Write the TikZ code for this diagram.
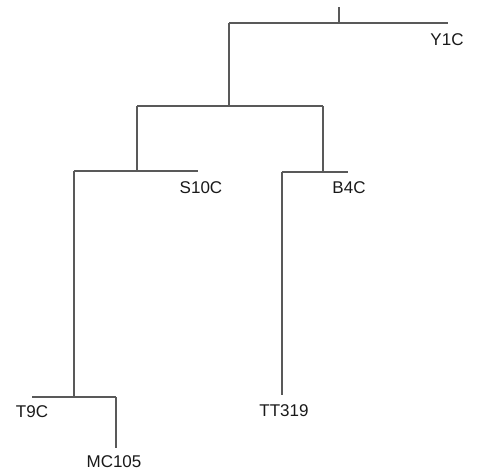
\documentclass[tikz,border=0pt]{standalone}
\usepackage{fontspec}
\setmainfont{Liberation Sans}
\begin{document}
\begin{tikzpicture}[x=1pt,y=-1pt,
  br/.style={draw=black!65,line width=1.1pt},
  lab/.style={font=\fontsize{17}{19}\selectfont, text=black!90, inner sep=0pt}]
\useasboundingbox (0,0) rectangle (478,471);
% coordinates of the tree
\coordinate (top) at (339,7);
\coordinate (r) at (339,23);
\coordinate (rL) at (229,23);
\coordinate (rR) at (448,23);
\coordinate (a) at (229,106);
\coordinate (aL) at (137,106);
\coordinate (aR) at (323,106);
\coordinate (s) at (137,171);
\coordinate (sL) at (74,171);
\coordinate (sR) at (198,171);
\coordinate (b) at (323,172);
\coordinate (bL) at (282,172);
\coordinate (bR) at (348,172);
\coordinate (t) at (74,397);
\coordinate (tL) at (32,397);
\coordinate (tR) at (116,397);
\coordinate (mc) at (116,448);
\coordinate (tt) at (282,395);
% labels
\node[lab] (Y1C) at (447,40) {Y1C};
\node[lab] (S10C) at (201,188) {S10C};
\node[lab] (B4C) at (349,188) {B4C};
\node[lab] (T9C) at (32,412) {T9C};
\node[lab] (TT319) at (284,411) {TT319};
\node[lab] (MC105) at (114,462) {MC105};
% branches
\draw[br] (top) -- (r);
\draw[br] (rL) -- (rR);
\draw[br] (rL) -- (a);
\draw[br] (aL) -- (aR);
\draw[br] (aL) -- (s);
\draw[br] (aR) -- (b);
\draw[br] (sL) -- (sR);
\draw[br] (bL) -- (bR);
\draw[br] (sL) -- (t);
\draw[br] (tL) -- (tR);
\draw[br] (tR) -- (mc);
\draw[br] (bL) -- (tt);
\end{tikzpicture}
\end{document}
